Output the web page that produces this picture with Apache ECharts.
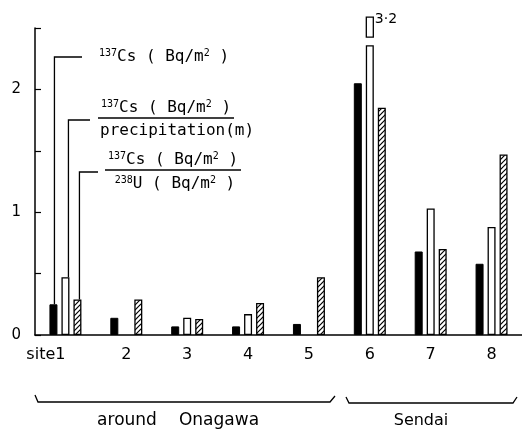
<!DOCTYPE html>
<html><head><meta charset="utf-8">
<script src="https://cdn.jsdelivr.net/npm/echarts@6/dist/echarts.min.js"></script>
<style>html,body{margin:0;padding:0;background:#fff}#c{width:522px;height:430px}</style>
</head><body><div id="c"></div>
<script>
// ---- data ----
const sites = ['site1', '2', '3', '4', '5', '6', '7', '8'];
const csDeposit = [0.25, 0.14, 0.07, 0.07, 0.09, 2.05, 0.68, 0.58];      // 137Cs (Bq/m2)
const csPerPrecip = [0.47, null, 0.14, 0.17, null, 3.2, 1.03, 0.88];      // 137Cs / precipitation
const csPerU = [0.29, 0.29, 0.13, 0.26, 0.47, 1.85, 0.70, 1.47];          // 137Cs / 238U
const yTicks = [0, 1, 2];
const groupNames = ['around', 'Onagawa', 'Sendai'];

// ---- display settings ----
const Y_MAX = 2.5;
const BREAK_CAP = 2.36;   // broken bars are drawn up to this value
const BAR_W = 8, BAR_GAP = 4;
const FONT = 'DejaVu Sans';
const MONO = 'DejaVu Sans Mono';

function hatchPattern() {
  const c = document.createElement('canvas');
  c.width = 5; c.height = 5;
  const g = c.getContext('2d');
  g.fillStyle = '#fff'; g.fillRect(0, 0, 5, 5);
  g.strokeStyle = '#000'; g.lineWidth = 1.2;
  g.beginPath(); g.moveTo(-1, 6); g.lineTo(6, -1); g.stroke();
  g.beginPath(); g.moveTo(-1, 1); g.lineTo(1, -1); g.stroke();
  g.beginPath(); g.moveTo(4, 6); g.lineTo(6, 4); g.stroke();
  return c;
}

const chart = echarts.init(document.getElementById('c'), null, { renderer: 'canvas' });

const option = {
  animation: false,
  backgroundColor: '#fff',
  grid: { left: 35, right: -4, top: 28, bottom: 95, containLabel: false },
  xAxis: {
    type: 'category',
    data: sites.map((s, i) => i === 0 ? { value: s, textStyle: { align: 'right' } } : s),
    axisLine: { lineStyle: { color: '#000', width: 1.5 } },
    axisTick: { show: false },
    axisLabel: { color: '#000', fontFamily: FONT, fontSize: 16, margin: 12, interval: 0 }
  },
  yAxis: {
    type: 'value', min: 0, max: Y_MAX, interval: 0.5,
    splitLine: { show: false },
    axisLine: { show: true, lineStyle: { color: '#000', width: 1.5 } },
    axisTick: { show: true, inside: true, length: 6, lineStyle: { color: '#000', width: 1.2 } },
    axisLabel: {
      color: '#000', fontFamily: FONT, fontSize: 15, margin: 14,
      formatter: v => yTicks.includes(v) ? String(v) : ''
    }
  },
  series: [
    {
      type: 'bar', name: '137Cs', data: csDeposit,
      barWidth: BAR_W, barGap: (BAR_GAP / BAR_W * 100) + '%',
      itemStyle: { color: '#000', borderColor: '#000', borderWidth: 1 }
    },
    {
      type: 'bar', name: '137Cs/precipitation',
      data: csPerPrecip.map(v => v == null ? '-' : Math.min(v, BREAK_CAP)),
      barWidth: BAR_W,
      itemStyle: { color: '#fff', borderColor: '#000', borderWidth: 1.3 }
    },
    {
      type: 'bar', name: '137Cs/238U', data: csPerU,
      barWidth: BAR_W,
      itemStyle: { color: { image: hatchPattern(), repeat: 'repeat' }, borderColor: '#000', borderWidth: 1.3 }
    },
    {
      type: 'custom', name: 'break',
      data: csPerPrecip.map((v, i) => (v != null && v > BREAK_CAP) ? [i, v] : null).filter(d => d),
      encode: { x: 0, y: 1 },
      renderItem: function (params, api) {
        const i = api.value(0), v = api.value(1);
        const top = api.coord([i, BREAK_CAP]);
        const cx = top[0];
        return {
          type: 'group',
          children: [
            { type: 'rect', shape: { x: cx - 3.5, y: top[1] - 28, width: 7, height: 20 },
              style: { fill: '#fff', stroke: '#000', lineWidth: 1.3 } },
            { type: 'text', x: cx + 5, y: top[1] - 26,
              style: { text: String(v).replace('.', '·'), fill: '#000', font: '14px ' + FONT,
                       textVerticalAlign: 'middle', textAlign: 'left' } }
          ]
        };
      }
    }
  ]
};
chart.setOption(option);

// ---- annotations (legend leaders, group braces) ----
const off = BAR_W + BAR_GAP;
function barTop(i, v, dx) {
  const p = chart.convertToPixel({ xAxisIndex: 0, yAxisIndex: 0 }, [i, v]);
  return [p[0] + dx, p[1]];
}
const b1 = barTop(0, csDeposit[0], -off + 1);
const b2 = barTop(0, csPerPrecip[0], 3);
const b3 = barTop(0, csPerU[0], off + 2);
const L = { stroke: '#000', lineWidth: 1.3 };
const rich = {
  s: { fontSize: 10, verticalAlign: 'top', lineHeight: 18, fontFamily: MONO },
  n: { fontSize: 16, lineHeight: 18, fontFamily: MONO }
};
function rt(x, y, text, align) {
  return { type: 'text', x: x, y: y,
    style: { text: text, rich: rich, fill: '#000', font: '16px ' + MONO, align: align || 'left', verticalAlign: 'middle' } };
}
const graphic = [
  { type: 'polyline', shape: { points: [b1, [b1[0], 57], [82, 57]] }, style: L },
  { type: 'polyline', shape: { points: [b2, [b2[0], 120], [90, 120]] }, style: L },
  { type: 'polyline', shape: { points: [b3, [b3[0], 172], [98, 172]] }, style: L },
  rt(99, 57, '{s|137}{n|Cs ( Bq/m}{s|2}{n| )}'),
  rt(166, 108, '{s|137}{n|Cs ( Bq/m}{s|2}{n| )}', 'center'),
  { type: 'line', shape: { x1: 98, y1: 118, x2: 234, y2: 118 }, style: L },
  rt(100, 131, '{n|precipitation(m)}'),
  rt(173, 160, '{s|137}{n|Cs ( Bq/m}{s|2}{n| )}', 'center'),
  { type: 'line', shape: { x1: 105, y1: 170, x2: 241, y2: 170 }, style: L },
  rt(175, 184, '{s|238}{n|U ( Bq/m}{s|2}{n| )}', 'center'),
  { type: 'polyline', shape: { points: [[35, 395], [38, 402], [330, 402], [335, 396]] }, style: L },
  { type: 'polyline', shape: { points: [[346, 397], [349, 403], [513, 403], [517, 397]] }, style: L },
  { type: 'text', x: 127, y: 421, style: { text: groupNames[0], fill: '#000', font: '17px ' + FONT, align: 'center', verticalAlign: 'middle' } },
  { type: 'text', x: 219, y: 421, style: { text: groupNames[1], fill: '#000', font: '17px ' + FONT, align: 'center', verticalAlign: 'middle' } },
  { type: 'text', x: 421, y: 421, style: { text: groupNames[2], fill: '#000', font: '16px ' + FONT, align: 'center', verticalAlign: 'middle' } }
];
chart.setOption({ graphic: graphic });
</script>
</body></html>
